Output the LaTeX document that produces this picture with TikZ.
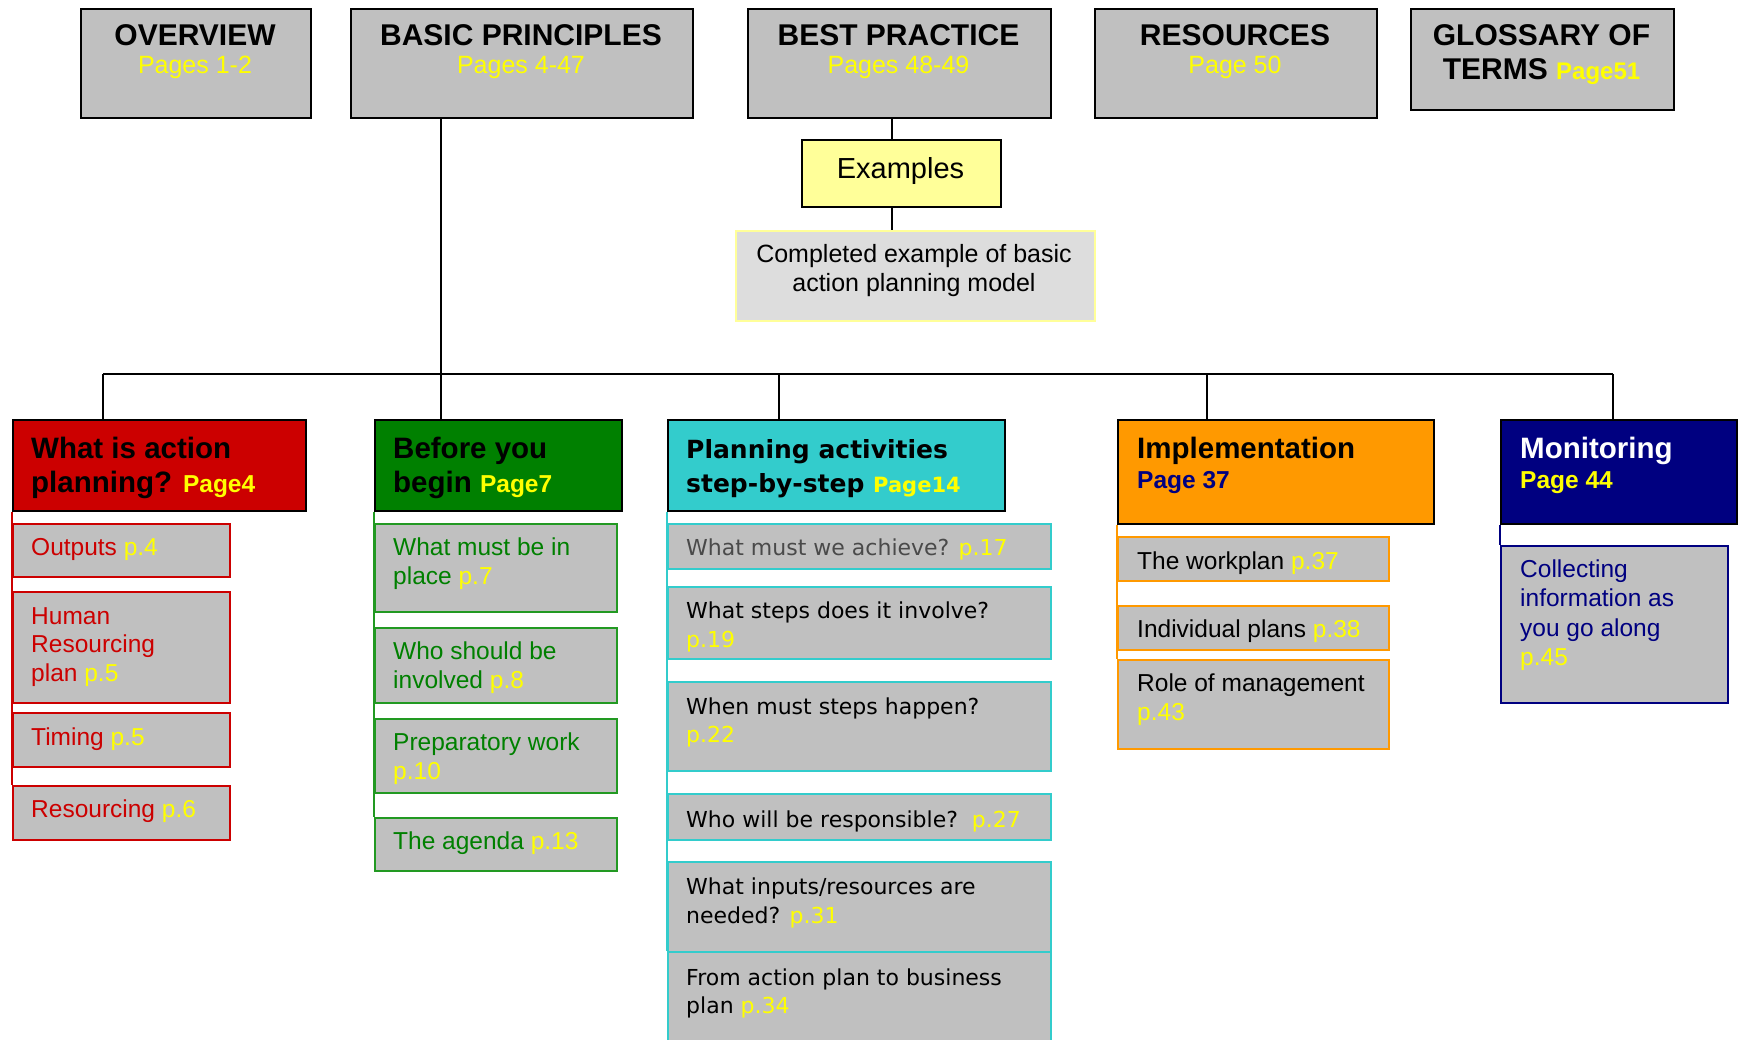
\documentclass[tikz,border=0pt]{standalone}
\usepackage{fontspec}
\setmainfont{Liberation Sans}
\newfontfamily\dvsfam{DejaVu Sans}
\definecolor{boxgray}{HTML}{C0C0C0}
\definecolor{yel}{HTML}{FFFF00}
\definecolor{hred}{HTML}{CC0000}
\definecolor{hgreen}{HTML}{008000}
\definecolor{bgreen}{HTML}{229922}
\definecolor{hcyan}{HTML}{33CCCC}
\definecolor{horange}{HTML}{FF9900}
\definecolor{hnavy}{HTML}{000080}
\definecolor{exyel}{HTML}{FFFF99}
\definecolor{lgray}{HTML}{DDDDDD}
\definecolor{dgray}{HTML}{4A4A4A}
\newcommand\ylw[1]{\textcolor{yel}{#1}}
\newcommand\mytitle{\fontsize{30}{36}\selectfont\bfseries}
\newcommand\mypages{\fontsize{25}{30}\selectfont}
\newcommand\myhead{\fontsize{29.5}{35}\selectfont\bfseries}
\newcommand\mypg{\fontsize{24.5}{29}\selectfont\bfseries}
\newcommand\myitem{\fontsize{24.5}{29}\selectfont}
\newcommand\mycyh{\dvsfam\bfseries\fontsize{25}{30}\selectfont}
\newcommand\mycypg{\dvsfam\bfseries\fontsize{21}{30}\selectfont}
\newcommand\mycyi{\dvsfam\fontsize{22}{29}\selectfont}
\tikzset{
  topbox/.style={draw=black, fill=boxgray, line width=2pt, anchor=north west, inner sep=0pt},
  itembox/.style={fill=boxgray, line width=2pt, anchor=north west, inner sep=0pt},
  conn/.style={draw=black, line width=1.6pt},
  txt/.style={anchor=base west, inner sep=0pt},
  ctxt/.style={anchor=base, inner sep=0pt},
}
\begin{document}
\begin{tikzpicture}[x=1pt,y=-1pt]
\useasboundingbox (0,0) rectangle (1740,1040);
\fill[white] (0,0) rectangle (1740,1040);
\clip (0,0) rectangle (1740,1040);

% ---------- top row ----------
\node[topbox, minimum width=230pt, minimum height=109pt] (ov) at (80,8) {};
\node[topbox, minimum width=342pt, minimum height=109pt] (bp) at (350,8) {};
\node[topbox, minimum width=303pt, minimum height=109pt] (bpr) at (747,8) {};
\node[topbox, minimum width=282pt, minimum height=109pt] (res) at (1094,8) {};
\node[topbox, minimum width=263pt, minimum height=101pt] (glo) at (1410,8) {};

\node[ctxt, font=\mytitle] (ovT) at (195,45.5) {OVERVIEW};
\node[ctxt, font=\mypages, text=yel] (ovP) at (195,74) {Pages 1-2};
\node[ctxt, font=\mytitle] (bpT) at (521,45.5) {BASIC PRINCIPLES};
\node[ctxt, font=\mypages, text=yel] (bpP) at (521,74) {Pages 4-47};
\node[ctxt, font=\mytitle] (bprT) at (898.5,45.5) {BEST PRACTICE};
\node[ctxt, font=\mypages, text=yel] (bprP) at (898.5,74) {Pages 48-49};
\node[ctxt, font=\mytitle] (resT) at (1235,45.5) {RESOURCES};
\node[ctxt, font=\mypages, text=yel] (resP) at (1235,74) {Page 50};
\node[ctxt, font=\mytitle] (gloT) at (1541.5,45.5) {GLOSSARY OF};
\node[ctxt, font=\mytitle] (gloP) at (1541.5,80) {TERMS {\fontsize{24}{29}\selectfont\color{yel}Page51}};

% ---------- examples ----------
\node[draw=black, fill=exyel, line width=2pt, anchor=north west, inner sep=0pt,
      minimum width=199pt, minimum height=67pt] (ex) at (801,139) {};
\node[ctxt, font=\fontsize{29}{34}\selectfont] (exT) at (900.5,178.7) {Examples};
\node[draw=exyel, fill=lgray, line width=2pt, anchor=north west, inner sep=0pt,
      minimum width=359pt, minimum height=90pt] (cmp) at (735,230) {};
\node[ctxt, font=\fontsize{25}{28}\selectfont] (cmpT1) at (914,263) {Completed example of basic};
\node[ctxt, font=\fontsize{25}{28}\selectfont] (cmpT2) at (914,292) {action planning model};

\coordinate (exl) at (892,0);
\draw[conn] (bpr.south -| exl) -- (ex.north -| exl);
\draw[conn] (ex.south -| exl) -- (cmp.north -| exl);

% ---------- headers ----------
\node[draw=black, fill=hred, line width=2pt, anchor=north west, inner sep=0pt,
      minimum width=293pt, minimum height=91pt] (hR) at (12,419) {};
\node[draw=black, fill=hgreen, line width=2pt, anchor=north west, inner sep=0pt,
      minimum width=247pt, minimum height=91pt] (hG) at (374,419) {};
\node[draw=black, fill=hcyan, line width=2pt, anchor=north west, inner sep=0pt,
      minimum width=337pt, minimum height=91pt] (hC) at (667,419) {};
\node[draw=black, fill=horange, line width=2pt, anchor=north west, inner sep=0pt,
      minimum width=316pt, minimum height=104pt] (hO) at (1117,419) {};
\node[draw=black, fill=hnavy, line width=2pt, anchor=north west, inner sep=0pt,
      minimum width=236pt, minimum height=104pt] (hN) at (1500,419) {};

\node[txt, font=\myhead] (hRT1) at (31,458) {What is action};
\node[txt, font=\myhead] (hRT2) at (31,492) {planning? {\mypg\color{yel}Page4}};
\node[txt, font=\myhead] (hGT1) at (393,458) {Before you};
\node[txt, font=\myhead] (hGT2) at (393,492) {begin {\mypg\color{yel}Page7}};
\node[txt, font=\mycyh] (hCT1) at (686,458) {Planning activities};
\node[txt, font=\mycyh] (hCT2) at (686,492) {step-by-step {\mycypg\color{yel}Page14}};
\node[txt, font=\myhead] (hOT1) at (1137,458) {Implementation};
\node[txt, font=\mypg, text=hnavy] (hOT2) at (1137,488) {Page 37};
\node[txt, font=\myhead, text=white] (hNT1) at (1520,458) {Monitoring};
\node[txt, font=\mypg, text=yel] (hNT2) at (1520,488) {Page 44};

% ---------- bus ----------
\coordinate (dR) at (103,374);
\coordinate (dG) at (441,374);
\coordinate (dC) at (779,374);
\coordinate (dO) at (1207,374);
\coordinate (dN) at (1613,374);
\draw[conn] (dG |- bp.south) -- (dG);
\draw[conn] (dR) -- (dN);
\draw[conn] (dR) -- (dR |- hR.north);
\draw[conn] (dG) -- (dG |- hG.north);
\draw[conn] (dC) -- (dC |- hC.north);
\draw[conn] (dO) -- (dO |- hO.north);
\draw[conn] (dN) -- (dN |- hN.north);

% ---------- red items ----------
\node[itembox, draw=hred, minimum width=217pt, minimum height=53pt] (r1) at (12,523) {};
\node[itembox, draw=hred, minimum width=217pt, minimum height=111pt] (r2) at (12,591) {};
\node[itembox, draw=hred, minimum width=217pt, minimum height=54pt] (r3) at (12,712) {};
\node[itembox, draw=hred, minimum width=217pt, minimum height=54pt] (r4) at (12,785) {};
\draw[hred, line width=2pt] (hR.south west) -- (r4.north west);
\node[txt, font=\myitem, text=hred] (r1T) at (31,555) {Outputs \ylw{p.4}};
\node[txt, font=\myitem, text=hred] (r2T1) at (31,624) {Human};
\node[txt, font=\myitem, text=hred] (r2T2) at (31,652.5) {Resourcing};
\node[txt, font=\myitem, text=hred] (r2T3) at (31,681) {plan \ylw{p.5}};
\node[txt, font=\myitem, text=hred] (r3T) at (31,745) {Timing \ylw{p.5}};
\node[txt, font=\myitem, text=hred] (r4T) at (31,817) {Resourcing \ylw{p.6}};

% ---------- green items ----------
\node[itembox, draw=bgreen, minimum width=242pt, minimum height=88pt] (g1) at (374,523) {};
\node[itembox, draw=bgreen, minimum width=242pt, minimum height=75pt] (g2) at (374,627) {};
\node[itembox, draw=bgreen, minimum width=242pt, minimum height=74pt] (g3) at (374,718) {};
\node[itembox, draw=bgreen, minimum width=242pt, minimum height=53pt] (g4) at (374,817) {};
\draw[bgreen, line width=2pt] (hG.south west) -- (g4.north west);
\node[txt, font=\myitem, text=hgreen] (g1T1) at (393,555) {What must be in};
\node[txt, font=\myitem, text=hgreen] (g1T2) at (393,584) {place \ylw{p.7}};
\node[txt, font=\myitem, text=hgreen] (g2T1) at (393,659) {Who should be};
\node[txt, font=\myitem, text=hgreen] (g2T2) at (393,688) {involved \ylw{p.8}};
\node[txt, font=\myitem, text=hgreen] (g3T1) at (393,750) {Preparatory work};
\node[txt, font=\myitem, text=hgreen] (g3T2) at (393,779) {\ylw{p.10}};
\node[txt, font=\myitem, text=hgreen] (g4T) at (393,849) {The agenda \ylw{p.13}};

% ---------- cyan items ----------
\node[itembox, draw=hcyan, minimum width=383pt, minimum height=45pt] (c1) at (667,523) {};
\node[itembox, draw=hcyan, minimum width=383pt, minimum height=72pt] (c2) at (667,586) {};
\node[itembox, draw=hcyan, minimum width=383pt, minimum height=89pt] (c3) at (667,681) {};
\node[itembox, draw=hcyan, minimum width=383pt, minimum height=46pt] (c4) at (667,793) {};
\node[itembox, draw=hcyan, minimum width=383pt, minimum height=90pt] (c5) at (667,861) {};
\node[itembox, draw=hcyan, minimum width=383pt, minimum height=100pt] (c6) at (667,951) {};
\draw[hcyan, line width=2pt] (hC.south west) -- (c6.north west);
\node[txt, font=\mycyi, text=dgray] (c1T) at (686,555) {What must we achieve? \ylw{p.17}};
\node[txt, font=\mycyi] (c2T1) at (686,618) {What steps does it involve?};
\node[txt, font=\mycyi] (c2T2) at (686,647) {\ylw{p.19}};
\node[txt, font=\mycyi] (c3T1) at (686,714) {When must steps happen?};
\node[txt, font=\mycyi] (c3T2) at (686,742) {\ylw{p.22}};
\node[txt, font=\mycyi] (c4T) at (686,827) {Who will be responsible?\ \ \ylw{p.27}};
\node[txt, font=\mycyi] (c5T1) at (686,894) {What inputs/resources are};
\node[txt, font=\mycyi] (c5T2) at (686,923) {needed? \ylw{p.31}};
\node[txt, font=\mycyi] (c6T1) at (686,985) {From action plan to business};
\node[txt, font=\mycyi] (c6T2) at (686,1013) {plan \ylw{p.34}};

% ---------- orange items ----------
\node[itembox, draw=horange, minimum width=271pt, minimum height=44pt] (o1) at (1117,536) {};
\node[itembox, draw=horange, minimum width=271pt, minimum height=44pt] (o2) at (1117,605) {};
\node[itembox, draw=horange, minimum width=271pt, minimum height=89pt] (o3) at (1117,659) {};
\draw[horange, line width=2pt] (hO.south west) -- (o3.north west);
\node[txt, font=\myitem] (o1T) at (1137,569) {The workplan \ylw{p.37}};
\node[txt, font=\myitem] (o2T) at (1137,637) {Individual plans \ylw{p.38}};
\node[txt, font=\myitem] (o3T1) at (1137,691) {Role of management};
\node[txt, font=\myitem] (o3T2) at (1137,720) {\ylw{p.43}};

% ---------- navy item ----------
\node[itembox, draw=hnavy, minimum width=227pt, minimum height=157pt] (n1) at (1500,545) {};
\draw[hnavy, line width=2pt] (hN.south west) -- (n1.north west);
\node[txt, font=\myitem, text=hnavy] (n1T1) at (1520,577) {Collecting};
\node[txt, font=\myitem, text=hnavy] (n1T2) at (1520,606) {information as};
\node[txt, font=\myitem, text=hnavy] (n1T3) at (1520,636) {you go along};
\node[txt, font=\myitem, text=hnavy] (n1T4) at (1520,665) {\ylw{p.45}};
\end{tikzpicture}
\end{document}
